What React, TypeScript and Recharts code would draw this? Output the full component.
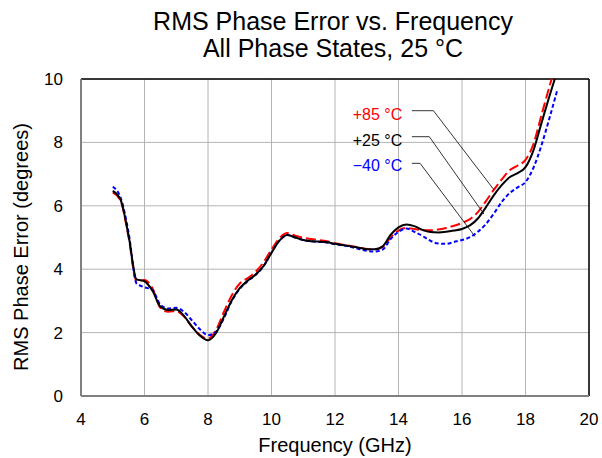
import {
  LineChart,
  Line,
  XAxis,
  YAxis,
  CartesianGrid,
  ReferenceLine,
  ReferenceDot,
} from 'recharts'

const FONT = '"Liberation Sans", Arial, Helvetica, sans-serif'

// frequency points (GHz)
const freq = [
  5.0, 5.25, 5.5, 5.75, 6.0, 6.25, 6.5, 6.75, 7.0, 7.25, 7.5, 7.75, 8.0, 8.25, 8.5,
  8.75, 9.0, 9.25, 9.5, 9.75, 10.0, 10.25, 10.5, 10.75, 11.0, 11.25, 11.5, 11.75,
  12.0, 12.25, 12.5, 12.75, 13.0, 13.25, 13.5, 13.75, 14.0, 14.25, 14.5, 14.75,
  15.0, 15.25, 15.5, 15.75, 16.0, 16.25, 16.5, 16.75, 17.0, 17.25, 17.5, 17.75,
  18.0, 18.25, 18.5, 18.75, 19.0,
]

// RMS phase error (degrees) at +85 °C
const err85 = [
  6.42, 6.15, 5.0, 3.62, 3.66, 3.4, 2.78, 2.66, 2.68, 2.5, 2.18, 1.92, 1.8, 2.08, 2.65,
  3.18, 3.55, 3.72, 3.92, 4.22, 4.62, 4.98, 5.14, 5.06, 4.99, 4.95, 4.92, 4.88,
  4.82, 4.77, 4.73, 4.68, 4.64, 4.63, 4.7, 5.0, 5.22, 5.3, 5.27, 5.23,
  5.23, 5.25, 5.3, 5.37, 5.46, 5.58, 5.8, 6.14, 6.5, 6.83, 7.12, 7.27,
  7.45, 7.95, 8.85, 9.75, 10.6,
]

// +25 °C
const err25 = [
  6.47, 6.18, 5.05, 3.68, 3.62, 3.32, 2.82, 2.71, 2.73, 2.52, 2.18, 1.9, 1.76, 1.98, 2.5,
  3.02, 3.4, 3.64, 3.83, 4.1, 4.52, 4.9, 5.08, 5.0, 4.92, 4.88, 4.87, 4.85,
  4.8, 4.76, 4.72, 4.68, 4.63, 4.63, 4.72, 5.08, 5.32, 5.41, 5.36, 5.24,
  5.17, 5.16, 5.18, 5.22, 5.27, 5.38, 5.6, 5.95, 6.33, 6.65, 6.9, 7.03,
  7.22, 7.75, 8.6, 9.45, 10.25,
]

// −40 °C
const errM40 = [
  6.6, 6.25, 5.15, 3.55, 3.43, 3.35, 2.88, 2.76, 2.78, 2.65, 2.38, 2.1, 1.92, 2.03, 2.45,
  3.0, 3.38, 3.62, 3.82, 4.1, 4.52, 4.9, 5.08, 5.0, 4.92, 4.88, 4.86, 4.84,
  4.79, 4.75, 4.7, 4.64, 4.58, 4.56, 4.62, 4.95, 5.18, 5.28, 5.18, 5.05,
  4.9, 4.81, 4.8, 4.86, 4.92, 5.01, 5.18, 5.42, 5.75, 6.12, 6.4, 6.58,
  6.75, 7.2, 7.9, 8.75, 9.65,
]

const xTicks = [4, 6, 8, 10, 12, 14, 16, 18, 20]
const yTicks = [0, 2, 4, 6, 8, 10]

const seriesLabels = [
  { text: '+85 °C', color: '#ff0000', x: 14.12, y: 8.89 },
  { text: '+25 °C', color: '#000000', x: 14.12, y: 8.08 },
  { text: '\u221240 °C', color: '#0000ff', x: 14.12, y: 7.29 },
]

// leader lines: label end -> elbow -> curve
const leaders = [
  [{ x: 14.42, y: 9.0 }, { x: 15.1, y: 9.0 }, { x: 17.01, y: 6.5 }],
  [{ x: 14.42, y: 8.18 }, { x: 14.97, y: 8.18 }, { x: 16.69, y: 5.74 }],
  [{ x: 14.42, y: 7.34 }, { x: 14.68, y: 7.34 }, { x: 16.41, y: 5.03 }],
]

const data = freq.map((f, i) => ({
  f,
  t85: err85[i],
  t25: err25[i],
  tm40: errM40[i],
}))

const tickStyle = { fontSize: 17, fill: '#000', fontFamily: FONT }

export default function App() {
  return (
    <div style={{ position: 'absolute', left: 0, top: 0, width: 602, height: 458, background: '#fff' }}>
      <svg
        width={602}
        height={458}
        style={{ position: 'absolute', left: 0, top: 0, pointerEvents: 'none' }}
      >
        <text x={333} y={29.5} textAnchor='middle' fontSize={25} fontFamily={FONT} fill='#000'>
          RMS Phase Error vs. Frequency
        </text>
        <text x={333} y={57} textAnchor='middle' fontSize={25} fontFamily={FONT} fill='#000'>
          All Phase States, 25 °C
        </text>
        <text
          x={28}
          y={247}
          textAnchor='middle'
          fontSize={20}
          fontFamily={FONT}
          fill='#000'
          transform='rotate(-90, 28, 247)'
        >
          RMS Phase Error (degrees)
        </text>
        <text x={335} y={451.7} textAnchor='middle' fontSize={20} fontFamily={FONT} fill='#000'>
          Frequency (GHz)
        </text>
      </svg>
      <LineChart
        width={602}
        height={458}
        data={data}
        margin={{ top: 79, right: 13, bottom: 22, left: 21 }}
        style={{ position: 'absolute', left: 0, top: 0 }}
      >
        <CartesianGrid stroke='#b4b4b4' strokeWidth={1} />
        <XAxis
          type='number'
          dataKey='f'
          domain={[4, 20]}
          ticks={xTicks}
          height={40}
          tickLine={false}
          tickSize={0}
          tickMargin={17}
          axisLine={{ stroke: '#808080', strokeWidth: 2 }}
          tick={tickStyle}
          interval={0}
        />
        <YAxis
          type='number'
          domain={[0, 10]}
          ticks={yTicks}
          width={60}
          allowDataOverflow
          tickLine={false}
          tickSize={0}
          tickMargin={18}
          axisLine={{ stroke: '#808080', strokeWidth: 2 }}
          tick={tickStyle}
          interval={0}
        />
        <ReferenceLine y={10} stroke='#000' strokeWidth={1.5} />
        <ReferenceLine x={20} stroke='#000' strokeWidth={1.5} />
        <Line
          type='monotone'
          dataKey='t85'
          stroke='#ff0000'
          strokeWidth={2}
          strokeDasharray='10 4'
          dot={false}
          isAnimationActive={false}
        />
        <Line
          type='monotone'
          dataKey='tm40'
          stroke='#0000ff'
          strokeWidth={2}
          strokeDasharray='4 2.5'
          dot={false}
          isAnimationActive={false}
        />
        <Line
          type='monotone'
          dataKey='t25'
          stroke='#000000'
          strokeWidth={2}
          dot={false}
          isAnimationActive={false}
        />
        {leaders.map((pts, i) => [
          <ReferenceLine key={`a${i}`} segment={[pts[0], pts[1]]} stroke='#000' strokeWidth={0.8} />,
          <ReferenceLine key={`b${i}`} segment={[pts[1], pts[2]]} stroke='#000' strokeWidth={0.8} />,
        ])}
        {seriesLabels.map((s) => (
          <ReferenceDot
            key={s.text}
            x={s.x}
            y={s.y}
            r={0}
            fill='none'
            stroke='none'
            label={{
              value: s.text,
              position: 'left',
              offset: 0,
              fill: s.color,
              fontSize: 16,
              fontFamily: FONT,
            }}
          />
        ))}
      </LineChart>
    </div>
  )
}
